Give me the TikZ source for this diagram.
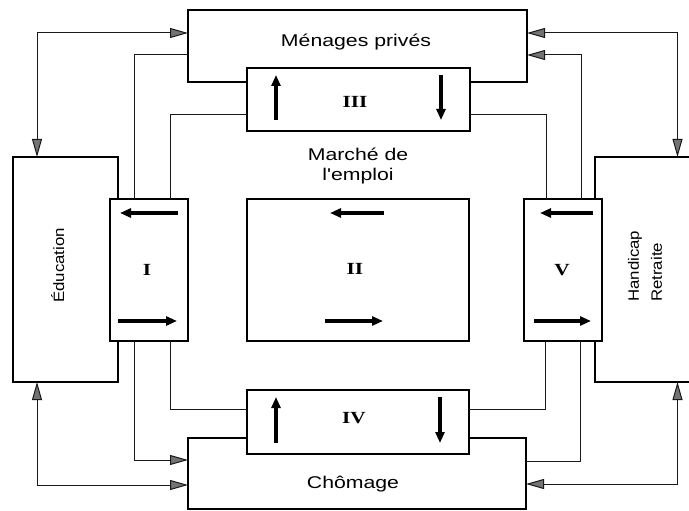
\documentclass[tikz,border=0pt]{standalone}
\usepackage{fontspec}
\setmainfont{Liberation Sans}
\newfontfamily\lblfont{Liberation Sans}[FakeStretch=1.25]
\newfontfamily\rotfont{Liberation Sans}[FakeStretch=1.12]
\newfontfamily\numfont{Liberation Serif}[FakeStretch=1.25]
\usetikzlibrary{arrows.meta}
\tikzset{
  gtip/.tip={Triangle[length=18pt 0 0,width=10pt 0 0,fill=black!55]},
  box/.style={rectangle, draw=black, line width=1.2pt, fill=white, inner sep=0pt, outer sep=0pt},
  conn/.style={draw=black!90, line width=1pt},
  fat/.style={draw=black, line width=3.2pt, -{Triangle[length=11pt 0 0,width=9pt 0 0]}},
  lbl/.style={inner sep=0pt, font=\lblfont\fontsize{17}{19.5}\selectfont},
  rot/.style={inner sep=0pt, rotate=90, font=\rotfont\fontsize{15}{23}\selectfont},
  num/.style={inner sep=0pt, font=\numfont\bfseries\fontsize{17}{18}\selectfont}
}
\begin{document}
\begin{tikzpicture}[x=1pt, y=-1pt]
\useasboundingbox (0,0) rectangle (689,511);
\clip (0,0) rectangle (689,511);
% boxes
\node[box, minimum width=339pt, minimum height=72pt] (men) at (357.5,46) {};
\node[box, minimum width=223pt, minimum height=63pt] (iii) at (358.5,99.5) {};
\node[box, minimum width=105pt, minimum height=225pt] (edu) at (65.5,269.5) {};
\node[box, minimum width=78pt, minimum height=142pt] (bI) at (149,270) {};
\node[box, minimum width=222pt, minimum height=142pt] (bII) at (358,270) {};
\node[box, minimum width=165pt, minimum height=225pt] (hand) at (677.5,269.5) {};
\node[box, minimum width=78pt, minimum height=142pt] (bV) at (563,270) {};
\node[box, minimum width=338pt, minimum height=71pt] (cho) at (357,473.5) {};
\node[box, minimum width=222pt, minimum height=64pt] (iv) at (358,422) {};
% bend points
\coordinate (k1) at (37,33);
\coordinate (k2) at (134,55);
\coordinate (k3) at (170,115);
\coordinate (k4) at (677.5,33);
\coordinate (k5) at (581,55);
\coordinate (k6) at (546,115);
\coordinate (k7) at (134,460);
\coordinate (k8) at (37,485);
\coordinate (k9) at (170,409);
\coordinate (k10) at (545,409);
\coordinate (k11) at (580,461);
\coordinate (k12) at (677.5,484);
% connectors
\draw[conn, gtip-gtip] (edu.north -| k1) -- (k1) -- (men.west |- k1);
\draw[conn] (bI.north -| k2) -- (k2) -- (men.west |- k2);
\draw[conn] (bI.north -| k3) -- (k3) -- (iii.west |- k3);
\draw[conn, gtip-gtip] (men.east |- k4) -- (k4) -- (hand.north -| k4);
\draw[conn, -gtip] (bV.north -| k5) -- (k5) -- (men.east |- k5);
\draw[conn] (iii.east |- k6) -- (k6) -- (bV.north -| k6);
\draw[conn, -gtip] (bI.south -| k7) -- (k7) -- (cho.west |- k7);
\draw[conn, gtip-gtip] (edu.south -| k8) -- (k8) -- (cho.west |- k8);
\draw[conn] (bI.south -| k9) -- (k9) -- (iv.west |- k9);
\draw[conn] (iv.east |- k10) -- (k10) -- (bV.south -| k10);
\draw[conn] (bV.south -| k11) -- (k11) -- (cho.east |- k11);
\draw[conn, gtip-gtip] (hand.south -| k12) -- (k12) -- (cho.east |- k12);
% thick arrows inside boxes
\draw[fat] (276,120) -- (276,75);
\draw[fat] (441,75) -- (441,120);
\draw[fat] (276,443) -- (276,397);
\draw[fat] (440,397) -- (440,443);
\draw[fat] (178,213) -- (120,213);
\draw[fat] (118,321) -- (177,321);
\draw[fat] (384,213) -- (330,213);
\draw[fat] (325,321) -- (383,321);
\draw[fat] (593,213) -- (540,213);
\draw[fat] (534,321) -- (591,321);
% texts
\node[lbl, anchor=base] (tmen) at (356,47) {Ménages privés};
\node[lbl, align=center] (tmar) at (358,166) {Marché de\\l'emploi};
\node[lbl, anchor=base] (tcho) at (353,488) {Chômage};
\node[rot, anchor=base] (tedu) at (64,265.5) {Éducation};
\node[rot, align=left, anchor=west] (thand) at (645,302) {Handicap\\Retraite};
\node[num] (nIII) at (355,102) {III};
\node[num] (nII) at (355,269) {II};
\node[num] (nI) at (147,270) {I};
\node[num] (nV) at (562,270) {V};
\node[num] (nIV) at (354,418) {IV};
\end{tikzpicture}
\end{document}
